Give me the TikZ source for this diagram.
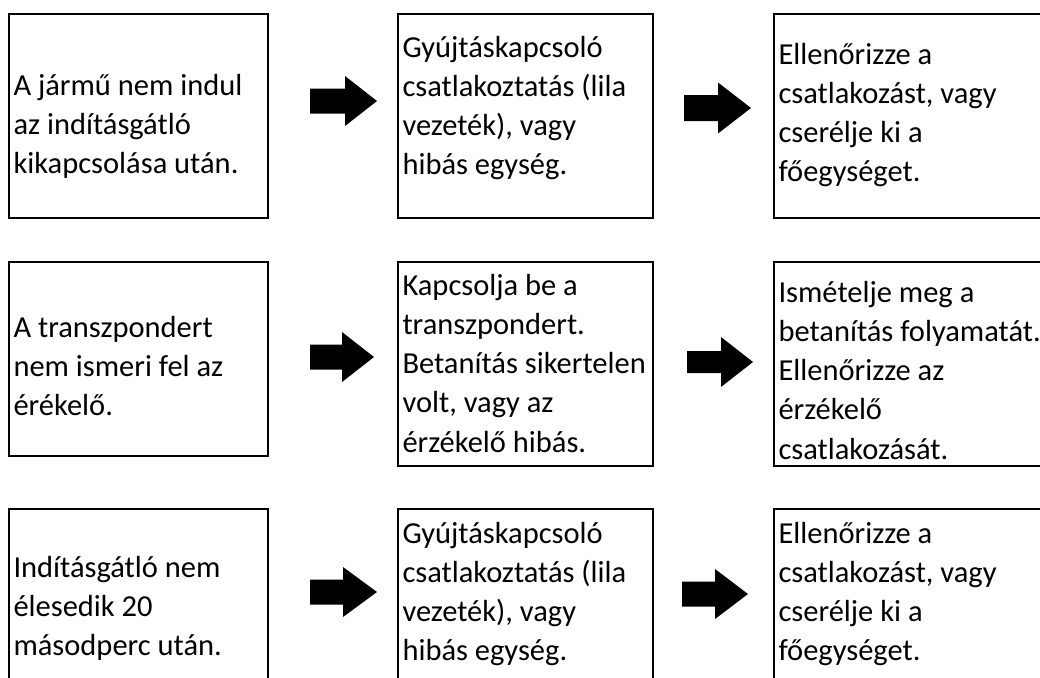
\documentclass[tikz,border=0pt]{standalone}
\usepackage{fontspec}
\setmainfont{Carlito}
\newcommand{\boxtext}[1]{\parbox[t]{330pt}{\fontsize{30.5}{39.3}\selectfont\raggedright #1}}
\newcommand{\blockarrow}[6]{% x-start, x-head, x-tip, y-center, shaft half, head half
  \fill[arrowfill] (#1,#4-#5) -- (#2,#4-#5) -- (#2,#4-#6) -- (#3,#4) -- (#2,#4+#6) -- (#2,#4+#5) -- (#1,#4+#5) -- cycle;}
\begin{document}
\begin{tikzpicture}[x=1pt,y=-1pt,
  stepbox/.style={draw=black,line width=2.5pt},
  arrowfill/.style={fill=black},
  txt/.style={anchor=base west,inner sep=0pt,outer sep=0pt}]
\useasboundingbox (0,0) rectangle (1040,677);
\clip (0,0) rectangle (1040,677);
\fill[white] (0,0) rectangle (1040,677);
% boxes
\draw[stepbox] (9,14) rectangle (268,218);
\draw[stepbox] (398,14) rectangle (653,218);
\draw[stepbox] (774,14) rectangle (1060,218);
\draw[stepbox] (9,262) rectangle (268,456);
\draw[stepbox] (398,262) rectangle (653,466);
\draw[stepbox] (774,262) rectangle (1060,466);
\draw[stepbox] (9,509) rectangle (268,700);
\draw[stepbox] (398,509) rectangle (653,700);
\draw[stepbox] (774,509) rectangle (1060,700);
% texts
\node[txt] (t11) at (13.5,95) {\boxtext{A jármű nem indul\\az indításgátló\\kikapcsolása után.}};
\node[txt] (t12) at (402.5,57) {\boxtext{Gyújtáskapcsoló\\csatlakoztatás (lila\\vezeték), vagy\\hibás egység.}};
\node[txt] (t13) at (778.5,64) {\boxtext{Ellenőrizze a\\csatlakozást, vagy\\cserélje ki a\\főegységet.}};
\node[txt] (t21) at (13.5,337) {\boxtext{A transzpondert\\nem ismeri fel az\\érékelő.}};
\node[txt] (t22) at (402.5,295) {\boxtext{Kapcsolja be a\\transzpondert.\\Betanítás sikertelen\\volt, vagy az\\érzékelő hibás.}};
\node[txt] (t23) at (778.5,302) {\boxtext{Ismételje meg a\\betanítás folyamatát.\\Ellenőrizze az\\érzékelő\\csatlakozását.}};
\node[txt] (t31) at (13.5,577) {\boxtext{Indításgátló nem\\élesedik 20\\másodperc után.}};
\node[txt] (t32) at (402.5,543) {\boxtext{Gyújtáskapcsoló\\csatlakoztatás (lila\\vezeték), vagy\\hibás egység.}};
\node[txt] (t33) at (778.5,543) {\boxtext{Ellenőrizze a\\csatlakozást, vagy\\cserélje ki a\\főegységet.}};
% arrows
\blockarrow{310}{345}{377}{101}{12.5}{25}
\blockarrow{684}{718}{751}{108}{13}{25.5}
\blockarrow{310}{342}{374}{357}{12.5}{25}
\blockarrow{687}{721}{753}{362}{11}{25}
\blockarrow{310}{343}{377}{592}{12.5}{25}
\blockarrow{682}{715}{748}{594}{12.5}{25}
\end{tikzpicture}
\end{document}
